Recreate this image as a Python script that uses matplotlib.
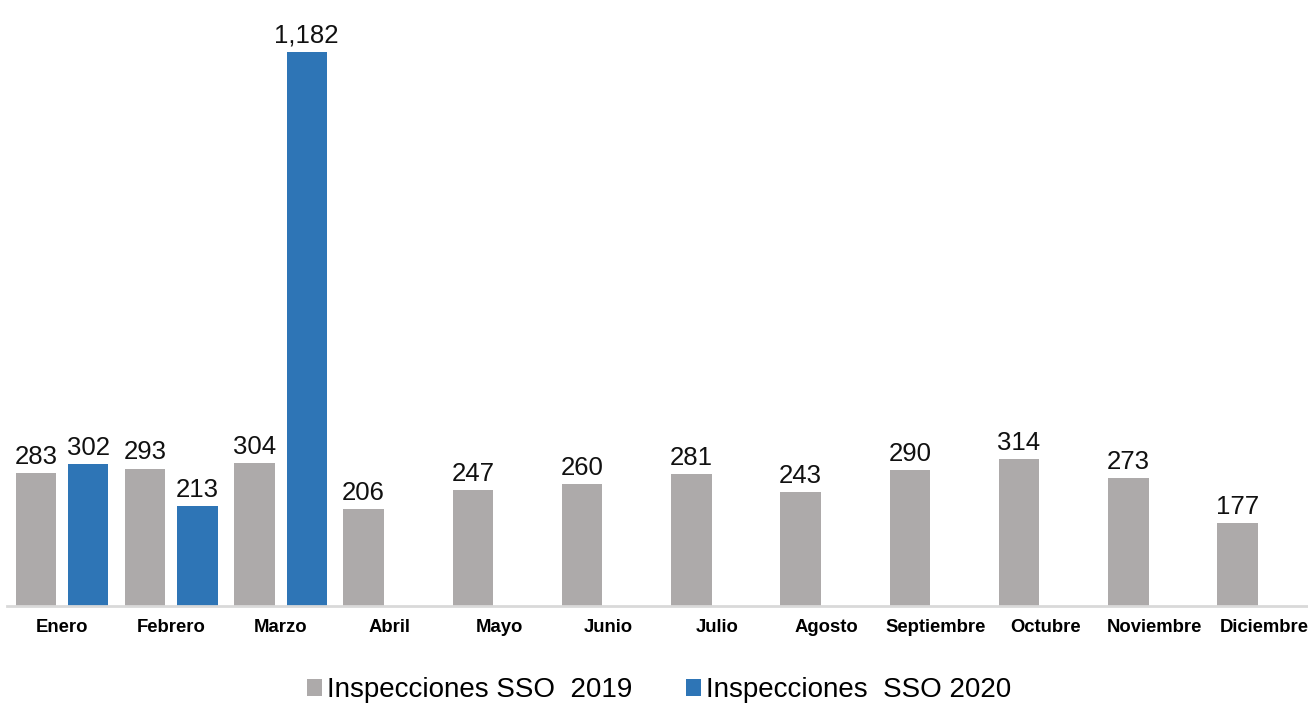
import matplotlib.pyplot as plt
import numpy as np

plt.rcParams['font.family'] = ['Liberation Sans', 'DejaVu Sans']

months = ['Enero', 'Febrero', 'Marzo', 'Abril', 'Mayo', 'Junio', 'Julio',
          'Agosto', 'Septiembre', 'Octubre', 'Noviembre', 'Diciembre']
sso_2019 = [283, 293, 304, 206, 247, 260, 281, 243, 290, 314, 273, 177]
sso_2020 = [302, 213, 1182]

gray = '#ADAAAA'
blue = '#2E75B6'

fig = plt.figure(figsize=(13.08, 7.04), dpi=100)
ax = fig.add_axes([7.4 / 1308, 98 / 704, 1311 / 1308, 586 / 704])

x = np.arange(len(months))
width = 0.37
off = 0.24

r1 = ax.bar(x - off, sso_2019, width, color=gray, label='Inspecciones SSO  2019')
r2 = ax.bar(x[:len(sso_2020)] + off, sso_2020, width, color=blue,
            label='Inspecciones  SSO 2020')

for rects in (r1, r2):
    ax.bar_label(rects, labels=[f'{v:,}' for v in rects.datavalues],
                 padding=3, fontsize=18.5, color='#111111')

ax.set_xlim(-0.5, len(months) - 0.5)
ax.set_ylim(0, 1250)
ax.set_xticks(x, months, fontsize=13.3, fontweight='bold')
ax.tick_params(axis='x', length=0, pad=9)
ax.set_yticks([])
for s in ['top', 'right', 'left']:
    ax.spines[s].set_visible(False)
ax.spines['bottom'].set_color('#D9D9D9')
ax.spines['bottom'].set_linewidth(2)

fig.legend(loc='center', bbox_to_anchor=(659 / 1308, 1 - 690 / 704), ncol=2,
           frameon=False, fontsize=20, handlelength=0.55, handleheight=0.55,
           handletextpad=0.15, columnspacing=1.95)

fig.savefig('out.png', dpi=100)
